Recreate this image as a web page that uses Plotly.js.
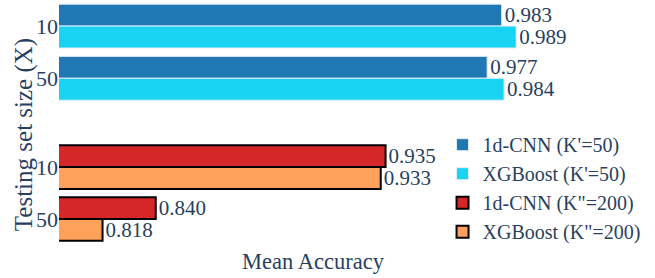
<!DOCTYPE html>
<html>
<head>
<meta charset="utf-8">
<script src="https://cdn.plot.ly/plotly-3.0.1.min.js"></script>
<style>html,body{margin:0;padding:0;background:#fff;}#chart{width:655px;height:278px;}</style>
</head>
<body>
<div id="chart"></div>
<script>
// Data
const sizes = ["10", "50"];
const cnnK50 = [0.983, 0.977];
const xgbK50 = [0.989, 0.984];
const cnnK200 = [0.935, 0.840];
const xgbK200 = [0.933, 0.818];
const seriesNames = ["1d-CNN (K'=50)", "XGBoost (K'=50)", "1d-CNN (K\"=200)", "XGBoost (K\"=200)"];

const FONT = "Liberation Serif, Times New Roman, serif";
const TXT = "#2a3f5f";

function bar(vals, name, color, lineColor, lineWidth, xa, ya) {
  return {
    type: "bar", orientation: "h", y: sizes, x: vals, name: name,
    xaxis: xa, yaxis: ya,
    marker: {color: color, line: {color: lineColor, width: lineWidth}},
    texttemplate: "%{x:.3f}", textposition: "outside", cliponaxis: false,
    constraintext: "none",
    textfont: {family: FONT, size: 21, color: TXT},
    hoverinfo: "x+name"
  };
}

const data = [
  bar(cnnK50, seriesNames[0], "#1f77b4", "#E5ECF6", 1, "x", "y"),
  bar(xgbK50, seriesNames[1], "#19d3f3", "#E5ECF6", 1, "x", "y"),
  bar(cnnK200, seriesNames[2], "#d62728", "#000000", 2, "x2", "y2"),
  bar(xgbK200, seriesNames[3], "#ffa15a", "#000000", 2, "x2", "y2")
];

const xCommon = {range: [0.8, 1.01], showticklabels: false, ticks: "", showgrid: false, zeroline: false, showline: false};
const yCommon = {autorange: "reversed", showgrid: false, zeroline: false, showline: false, ticks: "",
  tickfont: {family: FONT, size: 22, color: TXT}, type: "category"};

const layout = {
  width: 655, height: 278,
  margin: {l: 59, r: 88, t: 0, b: 33, autoexpand: false},
  paper_bgcolor: "#fff", plot_bgcolor: "#fff",
  font: {family: FONT, color: TXT},
  barmode: "group", bargap: 0.16, bargroupgap: 0,
  showlegend: true,
  legend: {x: 0.755, xanchor: "left", y: 0.232, yanchor: "middle", bgcolor: "rgba(0,0,0,0)",
    font: {family: FONT, size: 20, color: TXT}},
  xaxis: Object.assign({}, xCommon, {anchor: "y", domain: [0, 1]}),
  yaxis: Object.assign({}, yCommon, {anchor: "x", domain: [0.574, 1]}),
  xaxis2: Object.assign({}, xCommon, {anchor: "y2", domain: [0, 1],
    title: {text: "Mean Accuracy", font: {family: FONT, size: 22.5, color: TXT}, standoff: 8}}),
  yaxis2: Object.assign({}, yCommon, {anchor: "x2", domain: [0, 0.424]}),
  annotations: [{
    text: "Testing set size (X)", textangle: -90, showarrow: false,
    xref: "paper", yref: "paper", x: -0.07, y: 0.45, xanchor: "center", yanchor: "middle",
    font: {family: FONT, size: 25, color: TXT}
  }]
};

Plotly.newPlot("chart", data, layout, {displayModeBar: false, staticPlot: true});
</script>
</body>
</html>
